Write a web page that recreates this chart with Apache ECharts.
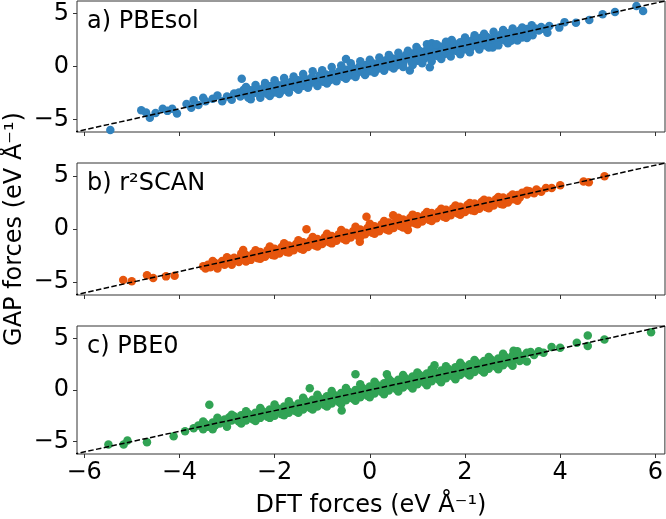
<!DOCTYPE html>
<html>
<head>
<meta charset="utf-8">
<title>GAP vs DFT forces</title>
<script src="https://cdn.jsdelivr.net/npm/echarts@6/dist/echarts.min.js"></script>
<style>
  html, body { margin: 0; padding: 0; background: #fff; }
  #chart { width: 666px; height: 519px; }
</style>
</head>
<body>
<div id="chart"></div>
<script>
// panel names
var panelNames = ["a) PBEsol", "b) r\u00b2SCAN", "c) PBE0"];
var panelColors = ["#3182bd", "#e6550d", "#31a354"];
var xTicks = [-6, -4, -2, 0, 2, 4, 6];
var yTicks = [-5, 0, 5];
var diagonal = [[-6.4, -6.4], [6.4, 6.4]];

// [DFT force, GAP force]
var pbesol = [
  [-5.45,-6.0],
  [-4.8,-4.15],[-4.7,-4.35],[-4.62,-4.85],[-4.5,-4.4],[-4.35,-4.0],[-4.25,-4.2],[-4.15,-4.0],[-4.05,-4.45],
  [-3.85,-3.55],[-3.75,-3.9],[-3.7,-3.2],[-3.6,-3.65],[-3.5,-2.95],[-3.45,-3.3],
  [-3.3,-3.05],[-3.2,-2.75],[-3.1,-3.3],[-3.0,-2.85],[-2.9,-3.15],[-2.85,-2.55],
  [-2.69,-1.15],
  [-2.75,-2.45],[-2.72,-2.85],[-2.65,-2.2],[-2.6,-2.65],[-2.55,-2.95],
  [-2.5,-2.25],[-2.45,-2.55],[-2.38,-2.05],[-2.35,-2.4],[-2.3,-2.75],
  [-2.22,-1.95],[-2.2,-2.3],[-2.15,-2.6],[-2.08,-1.85],[-2.05,-2.15],
  [-2.0,-2.45],[-1.95,-1.7],[-1.9,-2.0],[-1.85,-2.3],[-1.8,-1.55],
  [-1.75,-1.85],[-1.7,-2.15],[-1.65,-1.45],[-1.6,-1.7],[-1.55,-2.0],
  [-1.5,-1.3],[-1.45,-1.55],[-1.42,-1.85],[-1.36,-1.15],[-1.32,-1.45],
  [-1.28,-1.75],[-1.22,-1.05],[-1.18,-1.3],[-1.12,-1.6],[-1.06,-0.85],
  [-1.02,-1.15],[-0.98,-1.45],[-0.92,-0.75],[-0.88,-1.0],[-0.84,-1.3],
  [-0.78,-0.6],[-0.74,-0.85],[-0.7,-1.15],[-0.64,-0.45],[-0.6,-0.7],
  [-0.56,-1.0],[-0.5,-0.3],[-0.5,0.72],[-0.46,-0.55],[-0.42,-0.85],[-0.36,-0.15],
  [-0.32,-0.45],[-0.28,-0.7],[-0.22,0.0],[-0.18,-0.3],[-0.14,-0.55],
  [-0.08,0.15],[-0.04,-0.15],[0.0,-0.45],[0.06,0.3],[0.1,0.0],
  [0.14,-0.3],[0.2,0.45],[0.24,0.15],[0.28,-0.15],[0.34,0.6],
  [0.38,0.3],[0.42,0.0],[0.48,0.75],[0.52,0.45],[0.56,0.1],
  [0.62,0.9],[0.66,0.6],[0.7,0.25],[0.76,1.1],[0.8,0.75],
  [0.84,-0.37],[0.88,0.4],[0.92,1.25],[0.96,0.9],[0.98,1.85],[1.0,0.55],
  [1.06,1.45],[1.1,1.05],[1.14,0.7],[1.2,1.6],[1.2,2.1],[1.24,1.2],
  [1.26,-0.06],[1.3,0.85],[1.3,2.2],[1.34,1.75],[1.38,1.35],[1.42,1.0],
  [1.48,1.9],[1.52,1.5],[1.56,1.15],[1.62,2.05],[1.66,1.65],
  [1.7,1.3],[1.72,2.5],[1.76,2.2],[1.8,1.8],[1.84,1.45],[1.9,2.3],
  [1.94,1.95],[1.98,1.6],[2.04,2.45],[2.08,2.1],[2.12,1.75],
  [2.18,2.6],[2.22,2.25],[2.26,1.9],[2.32,2.7],[2.36,2.35],
  [2.4,2.0],[2.46,2.8],[2.5,2.5],[2.54,2.15],[2.58,1.81],
  [2.62,2.95],[2.66,2.6],[2.7,2.3],[2.76,3.05],[2.8,2.75],
  [2.84,2.45],[2.9,3.15],[2.95,2.85],[2.97,2.44],[3.02,3.3],
  [3.08,3.0],[3.15,3.4],[3.2,2.75],[3.25,3.15],[3.3,3.55],
  [3.36,3.3],[3.42,2.95],[3.48,3.6],[3.55,3.4],[3.6,3.75],
  [3.66,3.55],[3.73,3.2],[3.77,3.84],
  [-2.6,-1.95],[-2.4,-1.75],[-2.2,-1.55],[-2.0,-1.3],[-1.8,-1.1],[-1.6,-0.95],[-1.4,-0.7],[-1.2,-0.45],
  [-1.0,-0.35],[-0.8,-0.05],[-0.6,0.1],[-0.4,0.3],[-0.2,0.5],[0.0,0.65],[0.2,0.85],[0.4,1.1],
  [0.6,1.3],[0.8,1.5],[1.0,1.65],[1.4,2.1],[1.6,2.35],[2.0,2.75],[2.2,2.95],[2.4,3.1],
  [2.6,3.3],[2.8,3.45],[3.0,3.6],[3.2,3.7],[3.4,3.9],
  [-2.5,-3.1],[-2.3,-2.95],[-2.1,-2.8],[-1.9,-2.6],[-1.7,-2.45],[-1.5,-2.2],[-1.3,-2.0],[-1.1,-1.85],
  [-0.9,-1.6],[-0.7,-1.4],[-0.5,-1.15],[-0.3,-1.0],[-0.1,-0.8],[0.1,-0.6],[0.3,-0.4],[0.5,-0.2],
  [0.7,-0.05],[0.9,0.15],[1.1,0.3],[1.3,0.5],[1.5,0.7],[1.7,0.95],[1.9,1.15],[2.1,1.35],
  [2.3,1.6],[2.5,1.8],[2.7,2.0],[2.9,2.2],[3.1,2.45],[3.3,2.7],
  [3.98,3.68],[4.09,4.2],[4.33,4.15],[4.61,4.4],[4.89,4.94],[5.15,5.15],[5.6,5.72],[5.74,5.25]
];

// panel b
var r2scan = [
  [-5.18,-4.8],[-5.0,-4.9],[-4.68,-4.35],[-4.55,-4.6],[-4.28,-4.45],[-4.1,-4.4],
  [-3.5,-3.5],[-3.45,-3.7],[-3.4,-3.35],[-3.35,-3.6],[-3.3,-3.4],[-3.25,-3.2],[-3.2,-3.5],[-3.15,-3.25],[-3.1,-3.0],[-3.05,-3.35],[-3.0,-3.1],[-2.95,-2.85],
  [-2.9,-3.15],[-2.85,-2.7],[-2.8,-2.95],[-2.75,-3.1],[-2.7,-2.55],[-2.66,-1.98],[-2.65,-2.8],[-2.6,-2.45],[-2.55,-2.7],[-2.5,-2.9],[-2.45,-2.3],[-2.4,-2.55],
  [-2.35,-2.75],[-2.3,-2.15],[-2.25,-2.4],[-2.2,-2.6],[-2.15,-2.0],[-2.1,-2.25],[-2.05,-2.45],[-2.0,-1.85],[-1.95,-2.1],[-1.9,-2.3],[-1.85,-1.7],[-1.8,-1.95],
  [-1.75,-2.15],[-1.7,-1.55],[-1.65,-1.8],[-1.6,-2.0],[-1.55,-1.4],[-1.5,-1.65],[-1.45,-1.85],[-1.4,-1.25],[-1.35,-1.5],[-1.33,-0.03],[-1.3,-1.7],[-1.25,-1.1],
  [-1.2,-1.35],[-1.15,-1.55],[-1.1,-0.95],[-1.05,-1.2],[-1.0,-1.4],[-0.95,-0.8],[-0.9,-1.05],[-0.85,-1.25],[-0.8,-0.65],[-0.75,-0.9],[-0.7,-1.1],[-0.65,-0.5],
  [-0.6,-0.75],[-0.55,-0.95],[-0.5,-0.35],[-0.45,-0.6],[-0.4,-0.8],[-0.35,-0.2],[-0.3,-0.45],[-0.25,-0.65],[-0.21,-1.2],[-0.2,-0.05],[-0.15,-0.3],[-0.1,-0.5],
  [-0.07,1.16],[-0.05,0.1],[0.0,-0.15],[0.05,-0.35],[0.1,0.25],[0.15,0.0],[0.2,-0.2],[0.25,0.45],[0.3,0.15],[0.35,-0.05],[0.4,0.6],[0.45,0.3],
  [0.49,1.3],[0.5,0.1],[0.55,0.75],[0.6,0.45],[0.65,0.25],[0.7,0.9],[0.75,0.6],[0.8,-0.1],[0.8,0.4],[0.85,1.05],[0.9,0.75],[0.95,0.55],
  [1.0,1.2],[1.05,0.9],[1.1,0.7],[1.15,1.35],[1.2,1.05],[1.25,0.85],[1.3,1.5],[1.35,1.2],[1.4,1.0],[1.45,1.65],[1.5,1.35],[1.55,1.15],
  [1.6,1.8],[1.65,1.5],[1.7,1.3],[1.75,1.95],[1.8,1.65],[1.85,1.45],[1.9,2.1],[1.95,1.8],[2.0,1.6],[2.05,2.25],[2.1,1.95],[2.15,1.75],
  [2.2,2.4],[2.25,2.1],[2.3,1.9],[2.35,2.55],[2.4,2.25],[2.45,2.05],[2.5,2.65],[2.55,2.4],[2.6,2.2],[2.65,2.8],[2.7,2.55],[2.75,2.35],
  [2.8,2.95],[2.85,2.7],[2.9,2.5],[2.95,3.05],[3.0,2.8],[3.1,3.2],[3.15,2.95],[3.2,3.4],[3.3,3.25],[3.35,3.55],[3.45,3.35],[3.5,3.7],[3.6,3.5],[3.7,3.85],[3.82,3.85],
  [-3.3,-3.0],[-3.0,-2.65],[-2.7,-2.3],[-2.4,-2.0],[-2.1,-1.65],[-1.8,-1.35],[-1.5,-1.05],[-1.2,-0.75],
  [-0.9,-0.45],[-0.6,-0.1],[-0.3,0.2],[0.0,0.5],[0.3,0.75],[0.6,1.05],[0.9,1.35],[1.2,1.6],
  [1.5,1.9],[1.8,2.2],[2.1,2.45],[2.4,2.75],[2.7,3.0],[3.0,3.25],[3.3,3.6],
  [-3.2,-3.7],[-2.9,-3.35],[-2.6,-3.05],[-2.3,-2.8],[-2.0,-2.5],[-1.7,-2.2],[-1.4,-1.95],[-1.1,-1.65],
  [-0.8,-1.35],[-0.5,-1.05],[-0.2,-0.75],[0.1,-0.45],[0.4,-0.15],[0.7,0.15],[1.0,0.45],[1.3,0.75],
  [1.6,1.05],[1.9,1.35],[2.2,1.7],[2.5,1.95],[2.8,2.3],[3.1,2.65],
  [4.0,4.1],[4.49,4.47],[4.6,4.4],[4.93,4.95]
];

// panel c
var pbe0 = [
  [-5.49,-5.27],[-5.17,-5.27],[-5.09,-4.89],[-4.68,-5.05],[-4.12,-4.47],[-3.88,-4.0],[-3.37,-1.44],
  [-3.7,-3.7],[-3.6,-3.45],[-3.5,-3.8],[-3.45,-3.3],[-3.4,-3.55],[-3.3,-3.15],[-3.25,-3.45],[-3.2,-2.95],[-3.15,-3.25],[-3.05,-2.85],[-3.0,-3.15],[-2.95,-2.65],
  [-2.9,-2.95],[-2.85,-2.55],[-2.8,-2.8],[-2.75,-3.05],[-2.7,-2.45],[-2.65,-2.7],[-2.6,-2.95],[-2.55,-2.3],[-2.5,-2.6],[-2.45,-2.85],[-2.4,-2.2],[-2.35,-2.45],
  [-2.3,-2.7],[-2.25,-2.05],[-2.2,-2.35],[-2.15,-2.6],[-2.1,-1.9],[-2.05,-2.2],[-2.0,-2.5],[-1.95,-1.75],[-1.9,-2.05],[-1.85,-2.35],[-1.8,-1.6],[-1.75,-1.9],
  [-1.7,-2.2],[-1.65,-1.45],[-1.6,-1.75],[-1.55,-2.05],[-1.5,-1.3],[-1.45,-1.6],[-1.4,-1.9],[-1.35,-1.1],[-1.3,-1.45],[-1.26,0.16],[-1.25,-1.75],[-1.2,-0.95],
  [-1.15,-1.25],[-1.1,-1.6],[-1.05,-0.8],[-1.0,-1.1],[-0.95,-1.45],[-0.9,-0.6],[-0.85,-0.95],[-0.8,-1.3],[-0.75,-0.45],[-0.7,-0.8],[-0.65,-1.15],[-0.6,-0.3],
  [-0.59,-1.98],[-0.55,-0.65],[-0.5,-1.0],[-0.45,-0.15],[-0.4,-0.5],[-0.35,-0.85],[-0.3,1.53],[-0.3,0.0],[-0.25,-0.35],[-0.2,-0.7],[-0.15,0.2],[-0.1,-0.15],[-0.05,-0.55],
  [0.0,0.35],[0.05,0.0],[0.1,-0.35],[0.15,0.5],[0.2,0.15],[0.25,-0.2],[0.3,0.65],[0.36,1.53],[0.35,0.3],[0.4,-0.05],[0.45,0.85],[0.5,0.45],[0.55,0.1],
  [0.6,1.0],[0.65,0.6],[0.7,0.25],[0.75,1.15],[0.8,0.75],[0.85,0.4],[0.9,1.3],[0.95,0.9],[1.0,0.55],[1.05,1.45],[1.1,1.05],[1.15,0.7],
  [1.2,1.6],[1.25,1.2],[1.3,0.85],[1.36,2.4],[1.35,1.75],[1.4,1.35],[1.45,1.0],[1.5,1.9],[1.55,1.5],[1.6,1.15],[1.65,2.05],[1.7,1.65],[1.75,1.3],
  [1.8,2.2],[1.85,1.8],[1.9,1.45],[1.95,2.35],[2.0,1.95],[2.05,1.6],[2.1,2.5],[2.15,2.1],[2.2,1.75],[2.25,2.65],[2.3,2.25],[2.35,1.9],
  [2.4,2.8],[2.45,2.4],[2.5,2.05],[2.55,2.95],[2.6,2.55],[2.65,2.25],[2.7,3.05],[2.75,2.7],[2.8,2.4],[2.85,3.2],[2.9,2.85],[2.95,2.6],
  [3.0,3.35],[3.02,3.8],[3.05,3.0],[3.1,3.5],[3.15,2.8],[3.2,3.3],[3.3,3.6],[3.38,3.68],[3.45,3.4],[3.55,3.75],[3.65,3.6],[3.82,4.16],[4.0,4.1],
  [-3.5,-3.05],[-3.2,-2.7],[-2.9,-2.4],[-2.6,-2.05],[-2.3,-1.75],[-2.0,-1.4],[-1.7,-1.1],[-1.4,-0.75],
  [-1.1,-0.45],[-0.8,-0.1],[-0.5,0.2],[-0.2,0.55],[0.1,0.8],[0.4,1.1],[0.7,1.45],[1.0,1.7],
  [1.3,2.0],[1.6,2.3],[1.9,2.65],[2.2,2.9],[2.5,3.2],[2.8,3.5],[3.1,3.75],
  [-3.3,-3.8],[-3.0,-3.55],[-2.7,-3.25],[-2.4,-3.0],[-2.1,-2.7],[-1.8,-2.45],[-1.5,-2.2],[-1.2,-1.9],
  [-0.9,-1.6],[-0.6,-1.35],[-0.3,-1.05],[0.0,-0.7],[0.3,-0.4],[0.6,-0.15],[0.9,0.15],[1.2,0.45],
  [1.5,0.75],[1.8,1.05],[2.1,1.4],[2.4,1.7],[2.7,2.0],[3.0,2.35],[3.3,2.75],
  [4.35,4.57],[4.58,5.27],[4.58,4.26],[4.93,4.89],[5.91,5.6]
];

var panelData = [pbesol, r2scan, pbe0];
var gridTops = [1, 163, 326];
var gridHeights = [131, 132, 131];
var font = "DejaVu Sans";
var fontSize = 24;

var chart = echarts.init(document.getElementById("chart"));

function minusLabel(v) {
  return v < 0 ? "\u2212" + Math.abs(v) : String(v);
}

var grids = [], xAxes = [], yAxes = [], series = [], graphics = [];
for (var i = 0; i < 3; i++) {
  grids.push({
    left: 77, right: 1, top: gridTops[i], height: gridHeights[i],
    show: true, borderColor: "#333", borderWidth: 1, backgroundColor: "#fff"
  });
  xAxes.push({
    type: "value", gridIndex: i, min: -6.15, max: 6.2,
    splitLine: { show: false },
    axisLine: { show: false, onZero: false },
    axisTick: { show: true, customValues: xTicks, length: 4, lineStyle: { color: "#333" } },
    axisLabel: {
      show: i === 2, customValues: xTicks, margin: 7,
      fontFamily: font, fontSize: fontSize, color: "#000",
      formatter: minusLabel
    },
    name: i === 2 ? "DFT forces (eV \u00c5\u207b\u00b9)" : "",
    nameLocation: "middle", nameGap: 40,
    nameTextStyle: { fontFamily: font, fontSize: fontSize, color: "#000" }
  });
  yAxes.push({
    type: "value", gridIndex: i, min: -6.2, max: 6.2,
    splitLine: { show: false },
    axisLine: { show: false, onZero: false },
    axisTick: { show: true, customValues: yTicks, length: 4, lineStyle: { color: "#333" } },
    axisLabel: {
      customValues: yTicks, margin: 8,
      fontFamily: font, fontSize: fontSize, color: "#000",
      formatter: minusLabel
    }
  });
  series.push({
    type: "scatter", xAxisIndex: i, yAxisIndex: i,
    data: panelData[i], symbolSize: 8.5,
    itemStyle: { color: panelColors[i], opacity: 1 },
    silent: true, z: 2
  });
  series.push({
    type: "line", xAxisIndex: i, yAxisIndex: i,
    data: diagonal, symbol: "none", clip: true,
    lineStyle: { color: "#000", width: 1.5, type: [5.5, 2.4] },
    silent: true, z: 3
  });
  graphics.push({
    type: "text", x: 87, y: gridTops[i] + 21, z: 10,
    style: { text: panelNames[i], font: fontSize + "px '" + font + "'", fill: "#000", verticalAlign: "middle" }
  });
}

graphics.push({
  type: "text", x: 15, y: 229, rotation: Math.PI / 2, z: 10,
  style: { text: "GAP forces (eV \u00c5\u207b\u00b9)", font: fontSize + "px '" + font + "'", fill: "#000", align: "center", verticalAlign: "middle" }
});

chart.setOption({
  animation: false,
  grid: grids,
  xAxis: xAxes,
  yAxis: yAxes,
  series: series,
  graphic: graphics
});
</script>
</body>
</html>
